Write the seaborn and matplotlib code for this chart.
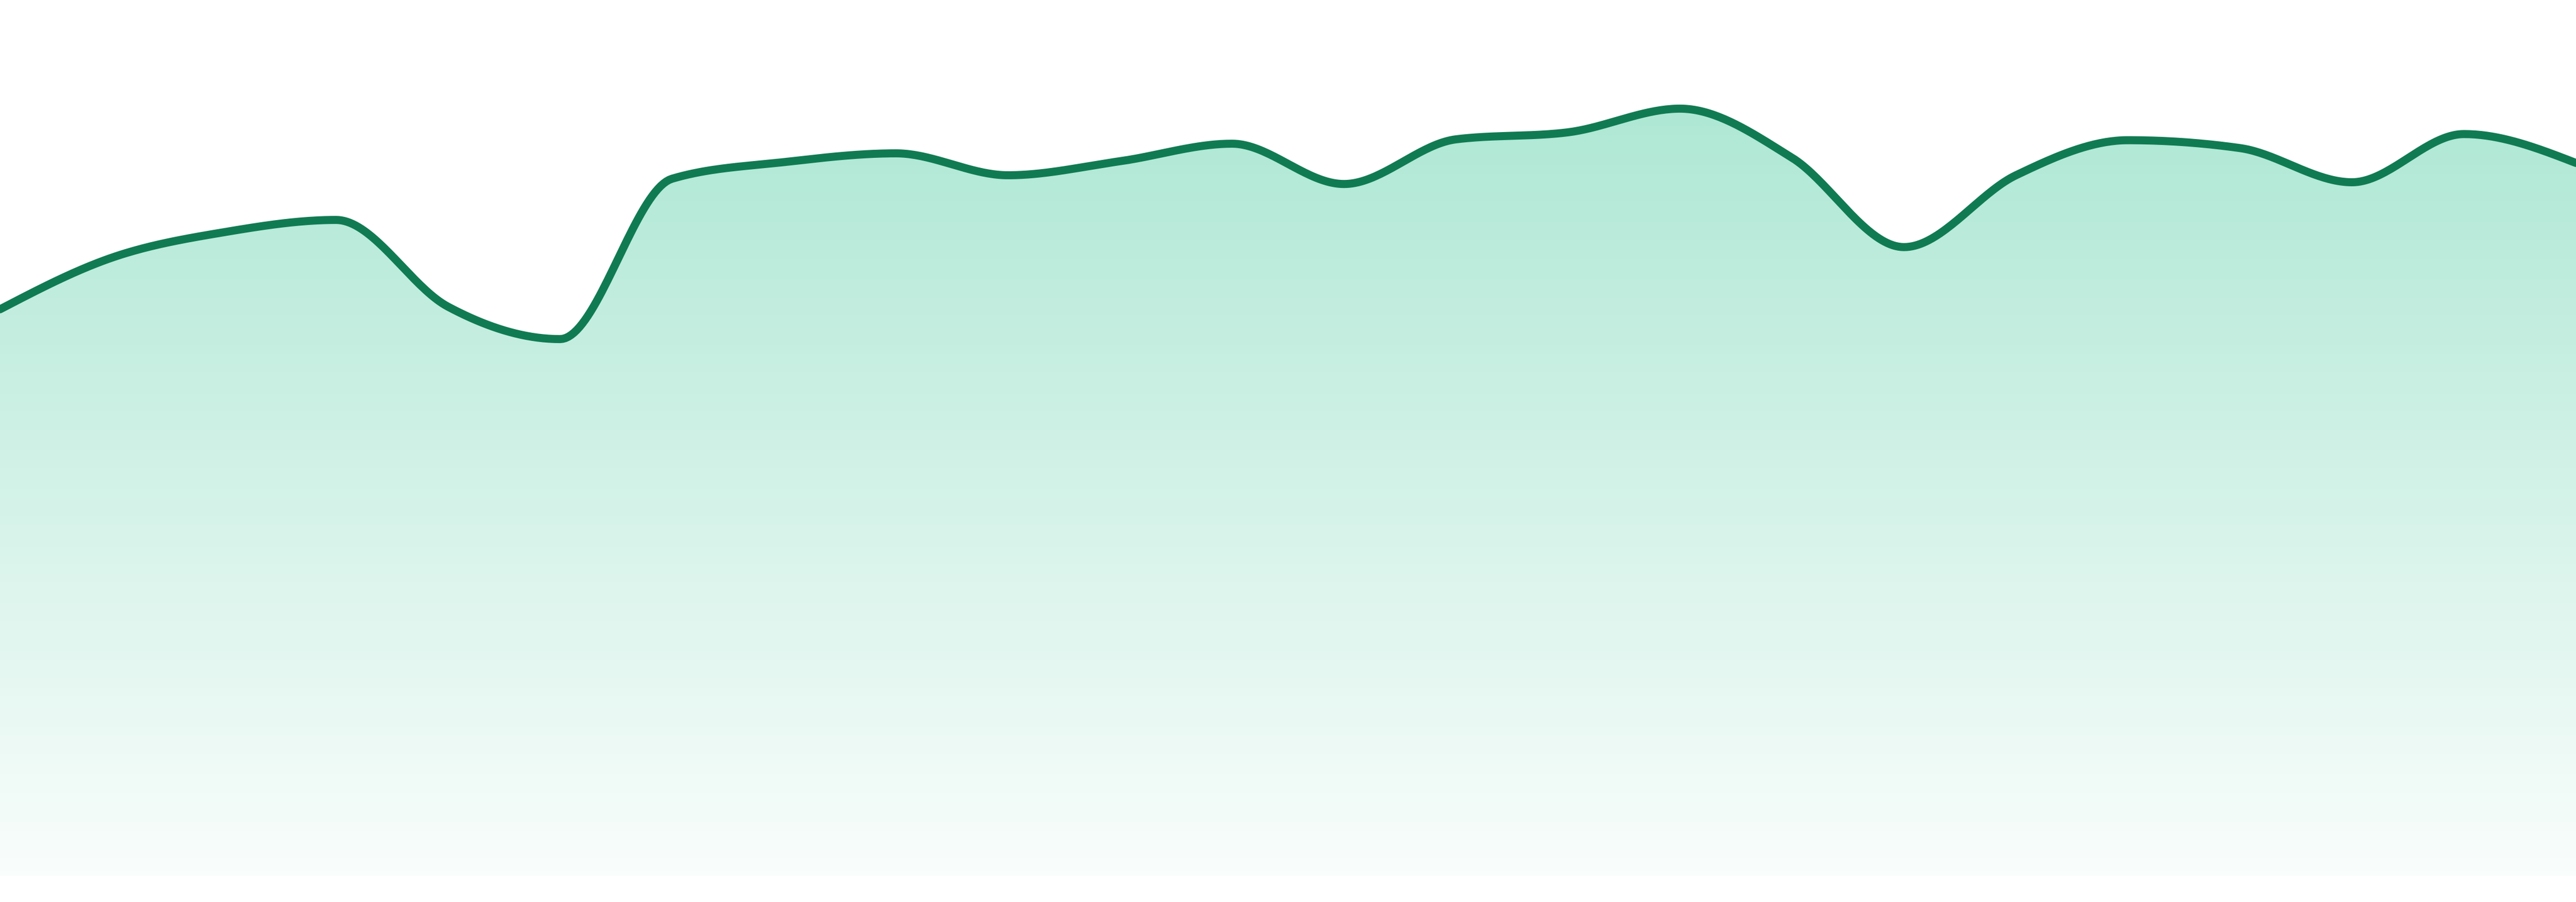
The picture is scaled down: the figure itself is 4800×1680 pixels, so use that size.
import numpy as np
import pandas as pd
import seaborn as sns
import matplotlib.pyplot as plt
from matplotlib.colors import to_rgb

# point index along the x axis and the value at each point (0-100 scale)
steps = list(range(24))
values = [64.7, 70.6, 73.5, 74.9, 65.0, 61.3, 79.6, 81.5, 82.5, 80.0, 81.6, 83.6,
          79.0, 84.1, 84.9, 87.6, 82.0, 71.8, 80.0, 84.0, 83.1, 79.2, 84.7, 81.4]

line_color = "#107B52"
fill_color = "#10B981"


def monotone_x(x, y, n=40):
    # same shape as d3.curveMonotoneX
    x = np.asarray(x, float)
    y = np.asarray(y, float)
    h = np.diff(x)
    s = np.diff(y) / h
    t = np.zeros(len(x))
    for i in range(1, len(x) - 1):
        p = (s[i - 1] * h[i] + s[i] * h[i - 1]) / (h[i - 1] + h[i])
        sg = (1 if s[i - 1] >= 0 else -1) + (1 if s[i] >= 0 else -1)
        t[i] = sg * min(abs(s[i - 1]), abs(s[i]), 0.5 * abs(p))
    t[0] = (3 * s[0] - t[1]) / 2
    t[-1] = (3 * s[-1] - t[-2]) / 2
    xs, ys = [], []
    for i in range(len(x) - 1):
        u = np.linspace(0, 1, n, endpoint=False)
        h00 = 2 * u**3 - 3 * u**2 + 1
        h10 = u**3 - 2 * u**2 + u
        h01 = -2 * u**3 + 3 * u**2
        h11 = u**3 - u**2
        xs.append(x[i] + u * h[i])
        ys.append(h00 * y[i] + h10 * h[i] * t[i] + h01 * y[i + 1] + h11 * h[i] * t[i + 1])
    xs.append([x[-1]])
    ys.append([y[-1]])
    return np.concatenate(xs), np.concatenate(ys)


cx, cy = monotone_x(steps, values)
df = pd.DataFrame({"step": cx, "value": cy})

sns.set_style("white")
fig = plt.figure(figsize=(16, 5.6), dpi=300)
ax = fig.add_axes([0, 48 / 1680, 1, 1632 / 1680])

# gradient area under the curve
top = max(values)
poly = ax.fill_between(df["step"], df["value"], 0, color="none", lw=0)
grad = np.zeros((256, 1, 4))
grad[:, 0, :3] = to_rgb(fill_color)
grad[:, 0, 3] = np.linspace(0.34, 0.025, 256)
img = ax.imshow(grad, extent=[steps[0], steps[-1], 0, top], aspect="auto",
                origin="upper", zorder=1)
img.set_clip_path(poly.get_paths()[0], transform=ax.transData)

sns.lineplot(data=df, x="step", y="value", color=line_color, linewidth=3.6,
             ax=ax, zorder=3, sort=False)

ax.set_xlim(steps[0], steps[-1])
ax.set_ylim(0, 100)
ax.set_axis_off()

fig.savefig("out.png", dpi=300, facecolor="white")
